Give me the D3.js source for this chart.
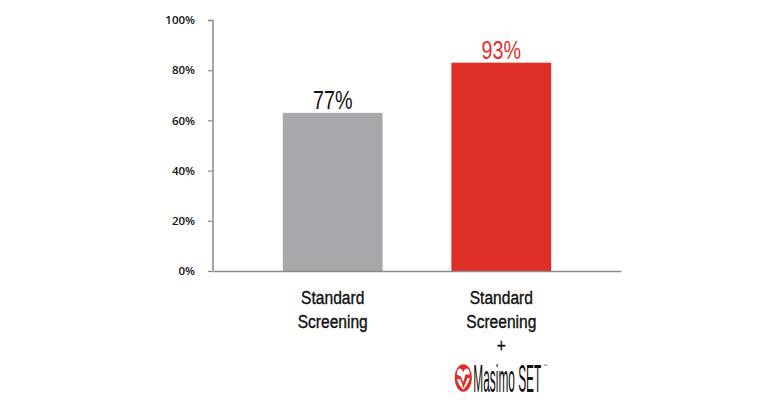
<!DOCTYPE html>
<html>
<head>
<meta charset="utf-8">
<script src="https://cdn.jsdelivr.net/npm/d3@7"></script>
<style>
  html, body { margin: 0; padding: 0; background: #fff; }
  svg { display: block; }
</style>
</head>
<body>
<svg id="chart" width="765" height="400"></svg>
<script>
// ---- data ----
const categories = ["Standard Screening", "Standard Screening + Masimo SET"];
const barValues = [63, 83];            // bar heights as drawn (%)
const valueLabels = ["77%", "93%"];    // labels printed above bars
const barColors = ["#a7a8ab", "#de2f27"];
const labelColors = ["#111111", "#e0302a"];
const yTicks = [0, 20, 40, 60, 80, 100];

const svg = d3.select("#chart");
const x = d3.scaleBand().domain(categories).range([213, 621]).paddingInner(0.408).paddingOuter(0.414);
const y = d3.scaleLinear().domain([0, 100]).range([271, 20]);
const condFont = "'Liberation Sans', Arial, sans-serif";

// bars
svg.selectAll("rect.bar").data(categories).enter().append("rect")
  .attr("class", "bar")
  .attr("x", d => x(d))
  .attr("width", x.bandwidth())
  .attr("y", (d, i) => y(barValues[i]))
  .attr("height", (d, i) => y(0) - y(barValues[i]))
  .attr("fill", (d, i) => barColors[i]);

// y axis
const yAxis = d3.axisLeft(y).tickValues(yTicks).tickFormat(d => d + "%").tickSize(5).tickPadding(13);
const gy = svg.append("g").attr("transform", "translate(213,0)").call(yAxis);
gy.select(".domain").attr("stroke", "#8a8a8a").attr("stroke-width", 1.5).attr("d", "M-5,20.5H0V271");
gy.selectAll(".tick line").attr("stroke", "#8a8a8a").attr("stroke-width", 1.2);
gy.selectAll(".tick text").attr("fill", "#111").attr("font-family", "'Open Sans', sans-serif")
  .attr("font-size", 11.5).attr("font-weight", 600);

// x axis line
const xAxis = d3.axisBottom(x).tickSize(0).tickFormat("");
const gx = svg.append("g").attr("transform", "translate(0,271)").call(xAxis);
gx.select(".domain").attr("stroke", "#8a8a8a").attr("stroke-width", 1.5);

// value labels (condensed)
svg.selectAll("text.val").data(categories).enter().append("text")
  .attr("class", "val")
  .attr("transform", (d, i) => `translate(${x(d) + x.bandwidth() / 2},${y(barValues[i]) - 4}) scale(0.79,1)`)
  .attr("text-anchor", "middle")
  .attr("font-family", condFont)
  .attr("font-size", 25)
  .attr("fill", (d, i) => labelColors[i])
  .text((d, i) => valueLabels[i]);

// category labels (condensed)
const catLines = [["Standard", "Screening"], ["Standard", "Screening", "+"]];
categories.forEach((c, i) => {
  const cx = x(c) + x.bandwidth() / 2;
  catLines[i].forEach((line, j) => {
    svg.append("text")
      .attr("transform", `translate(${cx},${304 + j * 24}) scale(0.82,1)`)
      .attr("text-anchor", "middle")
      .attr("font-family", condFont)
      .attr("font-size", 19)
      .attr("fill", "#111")
      .attr("stroke", "#111")
      .attr("stroke-width", 0.4)
      .text(line);
  });
});

// Masimo SET logo
const lx = x(categories[1]) + x.bandwidth() / 2;
const logo = svg.append("g").attr("transform", `translate(${lx - 38},378)`);
const mark = logo.append("g").attr("transform", "scale(0.72,1.15)");
mark.append("circle").attr("cx", 0).attr("cy", 0).attr("r", 12).attr("fill", "#de2f27");
mark.append("path")
  .attr("d", "M-9,-3 C-9,-9 -3,-10 0,-5 C3,-10 9,-9 9,-3 L3,-3 L0,4 L-3,-1 Z M-9,1 L-4,1 L0,9 L6,0 L9,0 C7,5 3,8 0,10 C-3,8 -7,5 -9,1 Z")
  .attr("fill", "#fff");
logo.append("text")
  .attr("x", 10).attr("y", 14)
  .attr("font-family", condFont)
  .attr("font-size", 38)
  .attr("textLength", 68)
  .attr("lengthAdjust", "spacingAndGlyphs")
  .attr("fill", "#111")
  .text("Masimo SET");
logo.append("text")
  .attr("x", 80).attr("y", -11)
  .attr("font-family", "Arial, sans-serif")
  .attr("font-size", 4)
  .attr("fill", "#111")
  .text("™");
</script>
</body>
</html>
